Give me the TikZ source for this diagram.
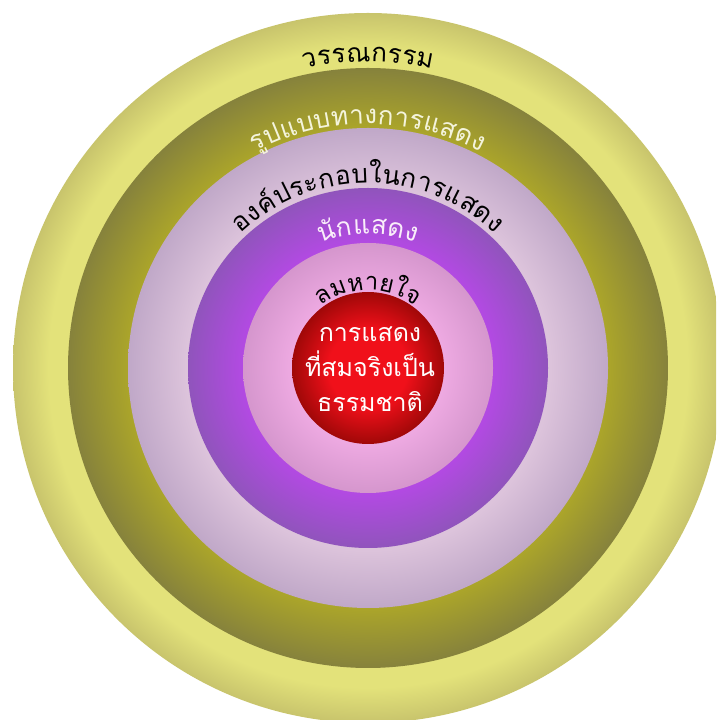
\documentclass[tikz,border=0pt]{standalone}
\usepackage{fontspec}
\newfontfamily\thaifont[Script=Thai]{Loma}
\usetikzlibrary{calc}
\definecolor{yA}{HTML}{E3E27A}
\definecolor{yB}{HTML}{C8C46C}
\definecolor{oA}{HTML}{ABA52A}
\definecolor{oB}{HTML}{86823C}
\definecolor{lA}{HTML}{DCC3DB}
\definecolor{lB}{HTML}{C0A8C8}
\definecolor{pA}{HTML}{B24AE2}
\definecolor{pB}{HTML}{9054BC}
\definecolor{kA}{HTML}{EDA9E1}
\definecolor{kB}{HTML}{D596CD}
\definecolor{rA}{HTML}{F0101A}
\definecolor{rB}{HTML}{A00808}
\definecolor{olivetext}{HTML}{F4F4DC}
\definecolor{purpletext}{HTML}{FAEEFA}
\pgfdeclareradialshading{yshade}{\pgfpoint{0bp}{0bp}}{color(0bp)=(yA); color(22.5bp)=(yA); color(25bp)=(yB); color(50bp)=(yB)}
\pgfdeclareradialshading{oshade}{\pgfpoint{0bp}{0bp}}{color(0bp)=(oA); color(20bp)=(oA); color(25bp)=(oB); color(50bp)=(oB)}
\pgfdeclareradialshading{lshade}{\pgfpoint{0bp}{0bp}}{color(0bp)=(lA); color(19bp)=(lA); color(25bp)=(lB); color(50bp)=(lB)}
\pgfdeclareradialshading{pshade}{\pgfpoint{0bp}{0bp}}{color(0bp)=(pA); color(17.5bp)=(pA); color(25bp)=(pB); color(50bp)=(pB)}
\pgfdeclareradialshading{kshade}{\pgfpoint{0bp}{0bp}}{color(0bp)=(kA); color(15.5bp)=(kA); color(25bp)=(kB); color(50bp)=(kB)}
\pgfdeclareradialshading{rshade}{\pgfpoint{0bp}{0bp}}{color(0bp)=(rA); color(13bp)=(rA); color(25bp)=(rB); color(50bp)=(rB)}
\newdimen\myacc
\newbox\myglbox
% measure (outside the picture): #1 name, #2 font, #3 gap, #4 clusters
\newcommand\measurearc[4]{%
  \global\myacc=0pt\relax
  \foreach \gl [count=\i] in {#4}{%
    \setbox\myglbox=\hbox{#2\gl}%
    \expandafter\xdef\csname arcw#1\i\endcsname{\the\wd\myglbox}%
    \global\advance\myacc by \wd\myglbox\relax
    \global\advance\myacc by #3\relax}%
  \global\advance\myacc by -#3\relax
  \expandafter\xdef\csname arctot#1\endcsname{\the\myacc}%
}
% place: #1 radius, #2 font, #3 gap, #4 clusters, #5 name
\newcommand\arctext[5]{%
  \pgfmathsetmacro\arcstart{90+0.5*\csname arctot#5\endcsname/#1*180/pi}%
  \gdef\arcpos{0pt}%
  \foreach \gl [count=\i] in {#4}{%
    \edef\curw{\csname arcw#5\i\endcsname}%
    \pgfmathsetmacro\ang{\arcstart-(\arcpos+0.5*\curw)/#1*180/pi}%
    \pgfmathsetmacro\rot{\ang-90}%
    \node[anchor=base,rotate=\rot,inner sep=0pt] (#5\i) at ($(C)+(\ang:#1)$) {#2\gl};
    \pgfmathsetlengthmacro\newpos{\arcpos+\curw+#3}%
    \global\let\arcpos\newpos
  }%
}
\def\fa{\thaifont\fontsize{26}{26}\selectfont\color{black}}
\def\fb{\thaifont\fontsize{26}{26}\selectfont\color{olivetext}}
\def\fc{\thaifont\fontsize{26}{26}\selectfont\color{black}}
\def\fd{\thaifont\fontsize{26}{26}\selectfont\color{purpletext}}
\def\fe{\thaifont\fontsize{24}{24}\selectfont\color{black}}
\begin{document}%
\measurearc{a}{\fa}{0.3pt}{ว,ร,ร,ณ,ก,ร,ร,ม}%
\measurearc{b}{\fb}{0.3pt}{รู,ป,แ,บ,บ,ท,า,ง,ก,า,ร,แ,ส,ด,ง}%
\measurearc{c}{\fc}{0.3pt}{อ,ง,ค์,ป,ร,ะ,ก,อ,บ,ใ,น,ก,า,ร,แ,ส,ด,ง}%
\measurearc{d}{\fd}{0.3pt}{นั,ก,แ,ส,ด,ง}%
\measurearc{e}{\fe}{0.3pt}{ล,ม,ห,า,ย,ใ,จ}%
\begin{tikzpicture}[x=1pt,y=1pt]
\useasboundingbox (0,0) rectangle (716,720);
\clip (0,0) rectangle (716,720);
\coordinate (C) at (368,352);
\shade[shading=yshade] (C) circle (355);
\shade[shading=oshade] (C) circle (300);
\shade[shading=lshade] (C) circle (240);
\shade[shading=pshade] (C) circle (180);
\shade[shading=kshade] (C) circle (125);
\shade[shading=rshade] (C) circle (76);
\arctext{306}{\fa}{0.3pt}{ว,ร,ร,ณ,ก,ร,ร,ม}{a}
\arctext{244}{\fb}{0.3pt}{รู,ป,แ,บ,บ,ท,า,ง,ก,า,ร,แ,ส,ด,ง}{b}
\arctext{185}{\fc}{0.3pt}{อ,ง,ค์,ป,ร,ะ,ก,อ,บ,ใ,น,ก,า,ร,แ,ส,ด,ง}{c}
\arctext{134}{\fd}{0.3pt}{นั,ก,แ,ส,ด,ง}{d}
\arctext{78}{\fe}{0.3pt}{ล,ม,ห,า,ย,ใ,จ}{e}
\node[align=center,text=white,font=\thaifont\fontsize{25}{35}\selectfont] (core) at (370,351) {การแสดง\\ที่สมจริงเป็น\\ธรรมชาติ};
\end{tikzpicture}
\end{document}
